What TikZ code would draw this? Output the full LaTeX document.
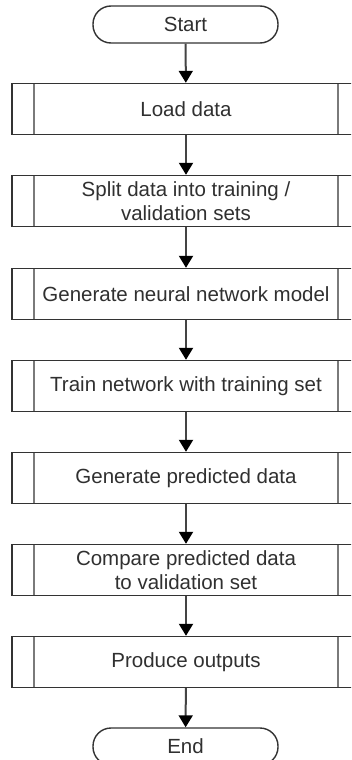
\documentclass[tikz,border=0pt]{standalone}
\usepackage{fontspec}
\setmainfont{Liberation Sans}
\usetikzlibrary{arrows.meta}
\definecolor{edge}{HTML}{333333}
\definecolor{inner}{HTML}{7A7A7A}
\definecolor{ink}{HTML}{303030}
\definecolor{flow}{HTML}{444444}
\tikzset{
  procbox/.style={draw=edge, line width=1.4pt, minimum width=348pt, minimum height=51pt,
    inner sep=0pt, font=\fontsize{20.5}{23.5}\selectfont, text=ink, align=center,
    path picture={
      \draw[inner, line width=2pt]
        ([xshift=22pt]path picture bounding box.north west) -- ([xshift=22pt]path picture bounding box.south west)
        ([xshift=-22pt]path picture bounding box.north east) -- ([xshift=-22pt]path picture bounding box.south east);
    }},
  terminal/.style={draw=edge, line width=1.4pt, rounded corners=18pt, minimum width=185pt,
    minimum height=37pt, inner sep=0pt, font=\fontsize{20.5}{23.5}\selectfont, text=ink},
  flowarrow/.style={draw=flow, line width=2pt, -{Triangle[width=14pt,length=12pt,fill=black,color=black]}}
}
\begin{document}
\begin{tikzpicture}[x=1pt,y=-1pt]
  \useasboundingbox (0,0) rectangle (351,760);
  \clip (0,0) rectangle (351,760);
  \fill[white] (0,0) rectangle (351,760);
  \node[terminal] (start) at (185.5,24.5) {Start};
  \node[procbox] (load) at (186,109) {Load data};
  \node[procbox] (split) at (186,201) {Split data into training /\\validation sets};
  \node[procbox] (model) at (186,294) {Generate neural network model};
  \node[procbox] (train) at (186,386) {Train network with training set};
  \node[procbox] (pred) at (186,478) {Generate predicted data};
  \node[procbox] (cmp) at (186,570) {Compare predicted data\\to validation set};
  \node[procbox] (out) at (186,662) {Produce outputs};
  \node[terminal] (end) at (185.5,746.5) {End};
  \draw[flowarrow] (start) -- (load);
  \draw[flowarrow] (load) -- (split);
  \draw[flowarrow] (split) -- (model);
  \draw[flowarrow] (model) -- (train);
  \draw[flowarrow] (train) -- (pred);
  \draw[flowarrow] (pred) -- (cmp);
  \draw[flowarrow] (cmp) -- (out);
  \draw[flowarrow] (out) -- (end);
\end{tikzpicture}
\end{document}
